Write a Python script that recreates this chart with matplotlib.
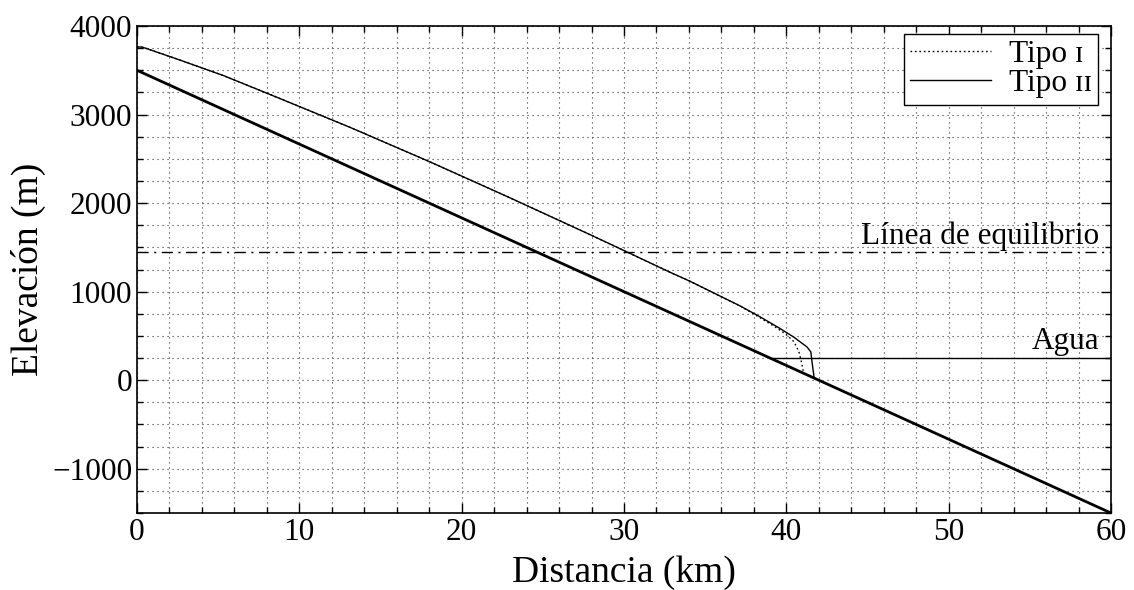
import matplotlib.pyplot as plt
from matplotlib.ticker import MultipleLocator

plt.rcParams['font.family'] = ['Liberation Serif', 'DejaVu Serif']

# lecho rocoso (km, m)
bed_x = [0, 60]
bed_z = [3500, -1500]

# superficie comun a ambos tipos (km, m)
surf_x = [0, 0.3, 0.6, 2.5, 5.3, 8.18, 13.12, 18.07, 23.01, 27.86, 30.28, 32.8, 34.07, 35.93, 37.15]
surf_z = [3765, 3762, 3745, 3625, 3442, 3228, 2856, 2464, 2057, 1648, 1440, 1222, 1117, 949, 839]

# frente del glaciar, tipo I (punteado)
tipo1_x = [37.15, 38.36, 39.17, 39.97, 40.48, 40.78, 40.93, 41.03, 41.15]
tipo1_z = [839, 708, 618, 520, 433, 320, 207, 113, 70]

# frente del glaciar, tipo II (continuo)
tipo2_x = [37.15, 38.39, 39.62, 40.44, 41.27, 41.51, 41.57, 41.65, 41.72]
tipo2_z = [839, 715, 583, 489, 376, 320, 226, 113, 23]

ela = 1450
agua = 250
agua_x = [39.0, 60]

fs_tick = 22.5
fs_lab = 27

fig = plt.figure(figsize=(11.34, 5.9), dpi=100)
ax = fig.add_axes([0.1208, 0.1305, 0.8589, 0.8254])

ax.plot(bed_x, bed_z, color='black', lw=2.0, zorder=4)
ax.plot(surf_x + tipo1_x[1:], surf_z + tipo1_z[1:], color='black', lw=1.0,
        ls=(0, (1.2, 2.0)), label='Tipo ɪ', zorder=3)
ax.plot(surf_x + tipo2_x[1:], surf_z + tipo2_z[1:], color='black', lw=1.0,
        ls='-', label='Tipo ɪɪ', zorder=3)

ax.plot([0, 60], [ela, ela], color='black', lw=1.0, ls='-.', dashes=(8, 4, 1.5, 4))
ax.plot(agua_x, [agua, agua], color='black', lw=1.0)

ax.text(59.3, ela + 10, 'Línea de equilibrio', ha='right', va='bottom', fontsize=fs_tick)
ax.text(59.3, agua + 25, 'Agua', ha='right', va='bottom', fontsize=fs_tick)

ax.set_xlim(0, 60)
ax.set_ylim(-1500, 4000)
ax.xaxis.set_major_locator(MultipleLocator(10))
ax.xaxis.set_minor_locator(MultipleLocator(2))
ax.yaxis.set_major_locator(MultipleLocator(1000))
ax.yaxis.set_minor_locator(MultipleLocator(250))

ax.grid(True, which='both', color='#333333', ls=(0, (1, 3.5)), lw=0.8)
ax.set_axisbelow(True)

ax.tick_params(which='both', direction='in', top=True, right=True, labelsize=fs_tick, width=1.0)
ax.tick_params(which='major', length=7)
ax.tick_params(which='minor', length=4)
for s in ax.spines.values():
    s.set_linewidth(1.2)

ax.set_xlabel('Distancia (km)', fontsize=fs_lab, labelpad=6)
ax.set_ylabel('Elevación (m)', fontsize=fs_lab, labelpad=4)

leg = ax.legend(loc='upper right', bbox_to_anchor=(0.9867, 0.9836), borderaxespad=0,
                fontsize=fs_tick, fancybox=False, framealpha=1, edgecolor='black',
                handlelength=2.6, borderpad=0.2, labelspacing=0.0, handletextpad=0.55)
leg.get_frame().set_linewidth(1.0)

fig.savefig('out.png', dpi=100)
